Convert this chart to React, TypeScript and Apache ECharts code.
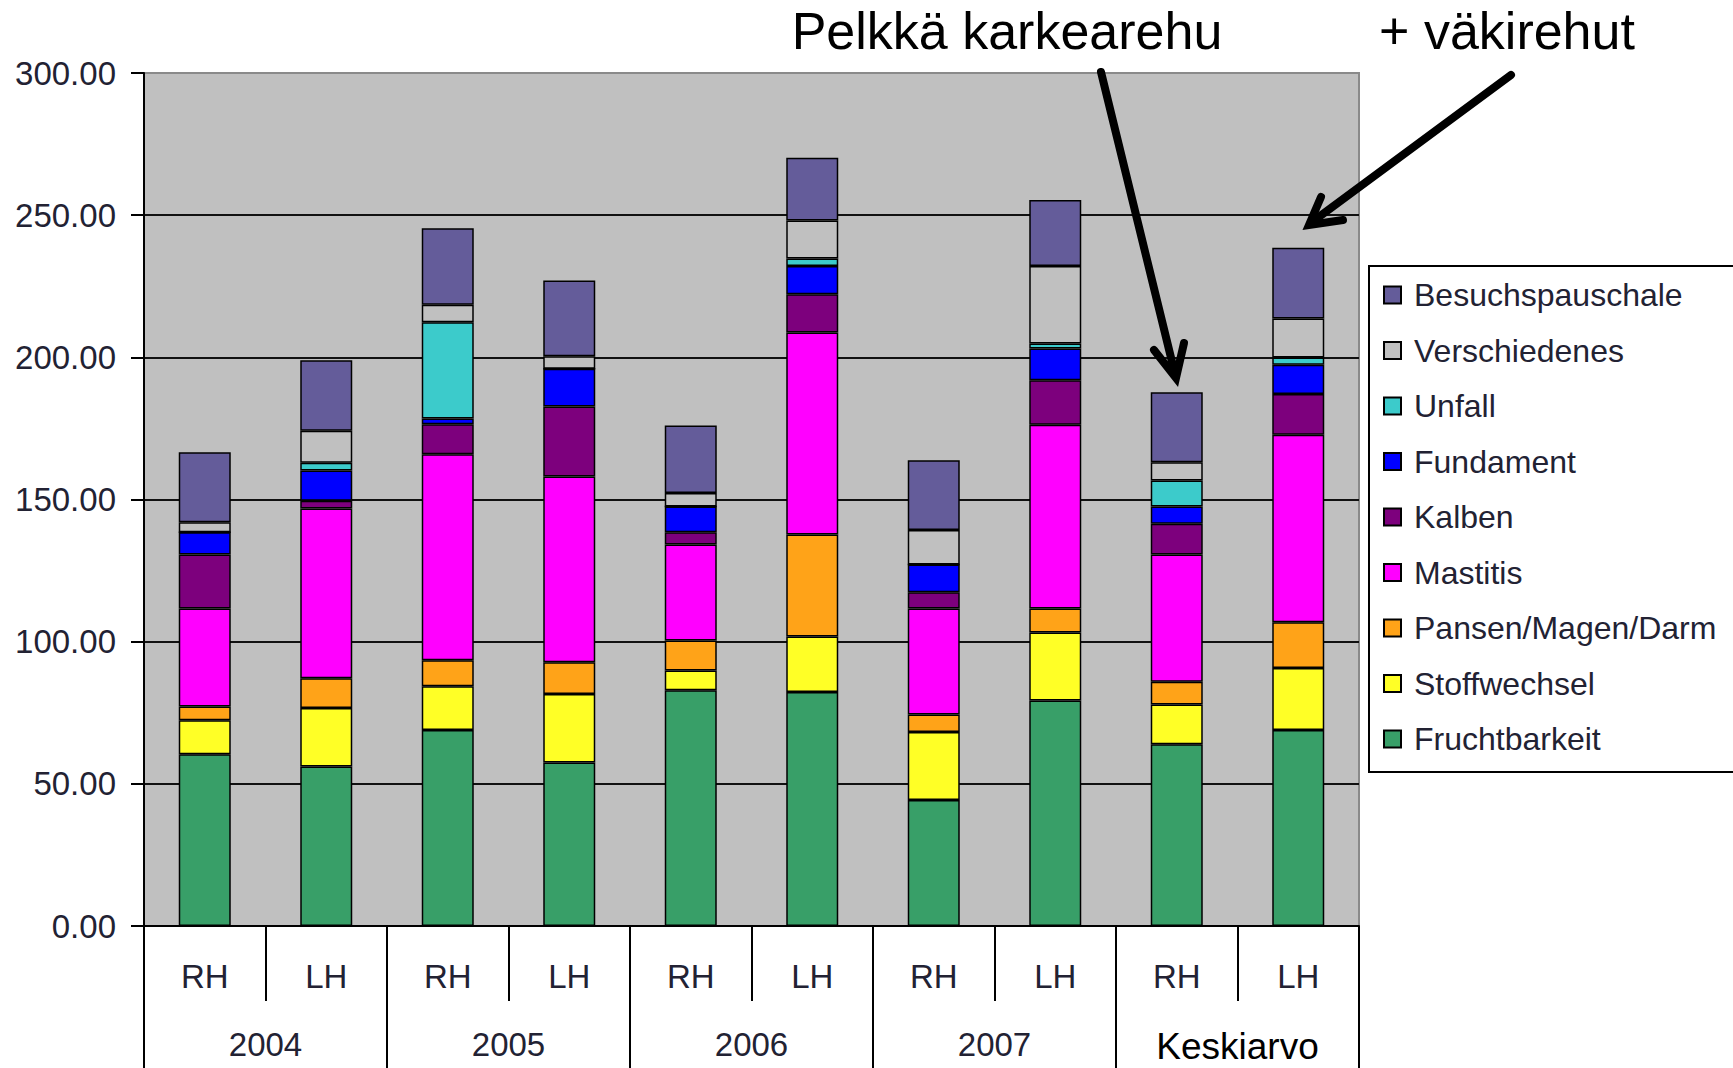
import React, { useEffect, useRef } from "react";
import * as echarts from "echarts";

const categories = ["2004-RH", "2004-LH", "2005-RH", "2005-LH", "2006-RH", "2006-LH", "2007-RH", "2007-LH", "Kesk-RH", "Kesk-LH"];
const tickLabels = ["RH", "LH", "RH", "LH", "RH", "LH", "RH", "LH", "RH", "LH"];
const groups = ["2004", "2005", "2006", "2007", "Keskiarvo"];
const yTicks = [0, 50, 100, 150, 200, 250, 300];

const fruchtbarkeit = [60.4, 56.1, 68.9, 57.5, 82.9, 82.3, 44.3, 79.3, 63.9, 68.9];
const stoffwechsel = [12.0, 20.6, 15.4, 24.1, 7.0, 19.5, 23.9, 23.9, 14.0, 21.8];
const pansen = [4.8, 10.4, 9.2, 11.2, 10.5, 35.9, 6.2, 8.5, 8.0, 16.1];
const mastitis = [34.5, 59.7, 72.4, 65.3, 33.8, 71.0, 37.3, 64.6, 44.8, 66.0];
const kalben = [19.0, 2.8, 10.6, 24.6, 4.3, 13.5, 5.7, 15.6, 10.8, 14.3];
const fundament = [7.8, 10.6, 2.0, 13.3, 9.0, 9.9, 9.7, 11.2, 6.0, 10.3];
const unfall = [0, 2.7, 33.8, 0, 0, 2.7, 0, 1.8, 9.2, 2.5];
const verschiedenes = [3.5, 11.3, 6.2, 4.4, 4.8, 13.3, 12.2, 27.2, 6.4, 13.8];
const besuchspauschale = [24.6, 24.8, 26.9, 26.6, 23.7, 22.1, 24.5, 23.2, 24.6, 24.8];

const seriesDefs = [
  { name: "Fruchtbarkeit", data: fruchtbarkeit, color: "#389f68" },
  { name: "Stoffwechsel", data: stoffwechsel, color: "#ffff26" },
  { name: "Pansen/Magen/Darm", data: pansen, color: "#ffa318" },
  { name: "Mastitis", data: mastitis, color: "#ff00ff" },
  { name: "Kalben", data: kalben, color: "#7d007d" },
  { name: "Fundament", data: fundament, color: "#0000ff" },
  { name: "Unfall", data: unfall, color: "#3ccbcb" },
  { name: "Verschiedenes", data: verschiedenes, color: "#c0c0c0" },
  { name: "Besuchspauschale", data: besuchspauschale, color: "#645c9a" },
];

const FONT = "'Liberation Sans', Arial, sans-serif";

export default function App() {
  const ref = useRef<HTMLDivElement>(null);
  useEffect(() => {
    if (!ref.current) return;
    const chart = echarts.init(ref.current, null, { renderer: "svg" });
    const option: any = {
      animation: false,
      backgroundColor: "#ffffff",
      textStyle: { fontFamily: FONT },
      grid: {
        left: 144,
        right: 374,
        top: 73,
        bottom: 142,
        show: true,
        backgroundColor: "#c0c0c0",
        borderColor: "#8a8a8a",
        borderWidth: 2,
      },
      legend: {
        orient: "vertical",
        left: 1383,
        top: 278,
        padding: 0,
        itemWidth: 17,
        itemHeight: 17,
        itemGap: 21.5,
        icon: "rect",
        data: seriesDefs.map((s) => s.name).reverse(),
        textStyle: {
          fontFamily: FONT,
          fontSize: 32,
          lineHeight: 34,
          color: "#222233",
          padding: [0, 0, 0, 8],
        },
      },
      xAxis: [
        {
          type: "category",
          data: categories,
          position: "bottom",
          axisLine: { show: true, lineStyle: { color: "#000", width: 2 } },
          axisTick: { show: true, interval: 0, length: 75, lineStyle: { color: "#000", width: 2 } },
          axisLabel: {
            interval: 0,
            formatter: (_v: string, i: number) => tickLabels[i],
            margin: 34,
            fontSize: 33,
            fontFamily: FONT,
            color: "#222233",
          },
        },
        {
          type: "category",
          data: groups,
          position: "bottom",
          axisLine: { show: false },
          axisTick: { show: true, interval: 0, length: 145, lineStyle: { color: "#000", width: 2 } },
          axisLabel: {
            interval: 0,
            hideOverlap: false,
            margin: 102,
            fontSize: 33,
            fontFamily: FONT,
            color: "#222233",
            formatter: (v: string) => (v === "Keskiarvo" ? "{k|" + v + "}" : v),
            rich: { k: { fontSize: 37, color: "#000", fontFamily: FONT } },
          },
        },
      ],
      yAxis: {
        type: "value",
        min: 0,
        max: 300,
        interval: 50,
        axisLine: { show: true, lineStyle: { color: "#000", width: 2 } },
        axisTick: { show: true, length: 13, lineStyle: { color: "#000", width: 2 } },
        axisLabel: {
          formatter: (v: number) => v.toFixed(2),
          margin: 28,
          fontSize: 33,
          fontFamily: FONT,
          color: "#222233",
        },
        splitLine: {
          show: true,
          lineStyle: {
            color: yTicks.map((t) => (t === 300 ? "#8a8a8a" : "#111")),
            width: 2,
          },
        },
      },
      series: seriesDefs.map((s) => ({
        name: s.name,
        type: "bar",
        stack: "total",
        barWidth: 52,
        data: s.data,
        itemStyle: { color: s.color, borderColor: "#000", borderWidth: 1.5 },
      })),
      graphic: [
        {
          type: "rect",
          z: 0,
          shape: { x: 1369, y: 266, width: 400, height: 506 },
          style: { fill: "#fff", stroke: "#000", lineWidth: 2 },
        },
        {
          type: "text",
          z: 100,
          x: 1007,
          y: 31,
          style: {
            text: "Pelkkä karkearehu",
            fontSize: 52,
            fontFamily: FONT,
            fill: "#000",
            align: "center",
            verticalAlign: "middle",
          },
        },
        {
          type: "text",
          z: 100,
          x: 1507,
          y: 31,
          style: {
            text: "+ väkirehut",
            fontSize: 52,
            fontFamily: FONT,
            fill: "#000",
            align: "center",
            verticalAlign: "middle",
          },
        },
        {
          type: "line",
          z: 100,
          shape: { x1: 1101, y1: 72, x2: 1175, y2: 374 },
          style: { stroke: "#000", lineWidth: 8, lineCap: "round" },
        },
        {
          type: "polyline",
          z: 100,
          shape: { points: [[1154, 350], [1176, 378], [1184, 343]] },
          style: { stroke: "#000", lineWidth: 8, fill: null, lineCap: "round", lineJoin: "miter" },
        },
        {
          type: "line",
          z: 100,
          shape: { x1: 1511, y1: 75, x2: 1312, y2: 222 },
          style: { stroke: "#000", lineWidth: 8, lineCap: "round" },
        },
        {
          type: "polyline",
          z: 100,
          shape: { points: [[1321, 197], [1309, 225], [1343, 220]] },
          style: { stroke: "#000", lineWidth: 8, fill: null, lineCap: "round", lineJoin: "miter" },
        },
      ],
    };
    chart.setOption(option);
    return () => chart.dispose();
  }, []);
  return (
    <div
      ref={ref}
      style={{ position: "fixed", left: 0, top: 0, width: 1733, height: 1068, background: "#fff" }}
    />
  );
}
